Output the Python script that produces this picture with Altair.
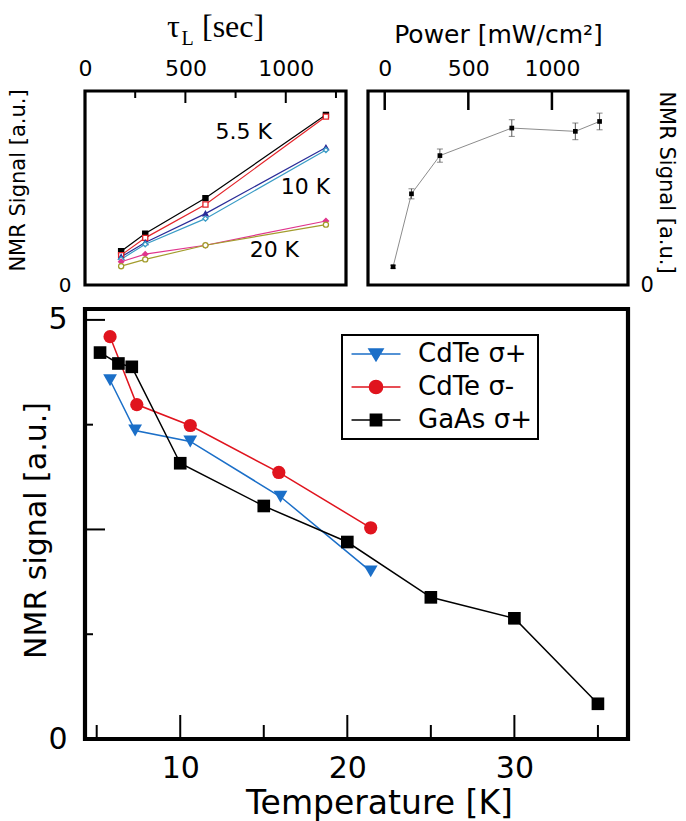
import altair as alt
import pandas as pd

SANS = "DejaVu Sans"
SERIF = "Liberation Serif"

# ---------------- top-left panel: NMR signal vs tau_L ----------------
tau_s = [180, 300, 600, 1200]
tl_series = ["5.5 K s+", "5.5 K s-", "10 K s+", "10 K s-", "20 K s+", "20 K s-"]
sig_55_p = [0.174, 0.265, 0.448, 0.877]
sig_55_m = [0.154, 0.243, 0.415, 0.868]
sig_10_p = [0.145, 0.219, 0.368, 0.709]
sig_10_m = [0.133, 0.210, 0.342, 0.696]
sig_20_p = [0.120, 0.159, 0.205, 0.330]
sig_20_m = [0.097, 0.132, 0.205, 0.311]
tl_colors = ["#000000", "#e4252b", "#2a2c98", "#3a9cc6", "#e0358d", "#a39c2c"]
tl_fills = ["#000000", "#ffffff", "#2a2c98", "#ffffff", "#e0358d", "#ffffff"]
tl_shapes = ["square", "square", "triangle-up", "diamond", "diamond", "circle"]
tl_label_text = ["5.5 K", "10 K", "20 K"]
tl_label_tau = [650, 975, 820]
tl_label_sig = [0.79, 0.505, 0.18]
tl_ticks_major = [500, 1000]
tl_ticks_minor = [250, 750, 1250]

# ---------------- top-right panel: NMR signal vs power ----------------
power = [50, 160, 330, 760, 1140, 1285]
tr_sig = [0.094, 0.470, 0.667, 0.809, 0.792, 0.843]
tr_err = [0.008, 0.026, 0.034, 0.043, 0.043, 0.043]
tr_ticks = [0, 500, 1000]

# ---------------- bottom panel: NMR signal vs temperature ----------------
c_series = ["CdTe σ+", "CdTe σ-", "GaAs σ+"]
c_colors = ["#1b6fc8", "#e0141e", "#000000"]
c_shapes = ["triangle-down", "circle", "square"]
c_sizes = [190, 160, 115]
T_cdte_p = [5.8, 7.3, 10.6, 16.0, 21.4]
v_cdte_p = [4.28, 3.68, 3.55, 2.89, 2.00]
T_cdte_m = [5.8, 7.4, 10.6, 15.9, 21.4]
v_cdte_m = [4.80, 3.99, 3.74, 3.18, 2.52]
T_gaas = [5.2, 6.3, 7.1, 10.0, 15.0, 20.0, 25.0, 30.0, 35.0]
v_gaas = [4.61, 4.48, 4.44, 3.29, 2.78, 2.35, 1.69, 1.44, 0.42]
c_xticks_major = [10, 20, 30]
c_xticks_minor = [5, 15, 25, 35]
c_yticks_major = [0, 2.5, 5]
c_yticks_minor = [1.25, 3.75]

# legend symbols: line segment + marker (unit = 12 px)
leg_paths = [
    "M-2.04,0H2.04M-0.59,-0.41L0.59,-0.41L0,0.57Z",
    "M-0.55,0A0.55,0.55,0,1,0,0.55,0A0.55,0.55,0,1,0,-0.55,0ZM-2.04,0H2.04",
    "M-2.04,0H2.04M-0.47,-0.47H0.47V0.47H-0.47Z",
]

# ---------------- data frames ----------------
rows = []
for s, vals in zip(tl_series, [sig_55_p, sig_55_m, sig_10_p, sig_10_m, sig_20_p, sig_20_m]):
    for t, v in zip(tau_s, vals):
        rows.append({"tau": t, "sig": v, "series": s})
df_tl = pd.DataFrame(rows)
df_tl_lab = pd.DataFrame({"tau": tl_label_tau, "sig": tl_label_sig, "label": tl_label_text})
df_tr = pd.DataFrame({
    "power": power, "sig": tr_sig,
    "lo": [s - e for s, e in zip(tr_sig, tr_err)],
    "hi": [s + e for s, e in zip(tr_sig, tr_err)],
})
rows = []
for s, Ts, vs in zip(c_series, [T_cdte_p, T_cdte_m, T_gaas], [v_cdte_p, v_cdte_m, v_gaas]):
    for t, v in zip(Ts, vs):
        rows.append({"T": t, "v": v, "series": s})
df_c = pd.DataFrame(rows)
one = pd.DataFrame({"k": [0]})


def spacer():
    # invisible element fixing the left extent of a panel (for row alignment)
    return alt.Chart(one).mark_rule(strokeOpacity=0, strokeWidth=1).encode(
        x=alt.value(-80), y=alt.value(20), y2=alt.value(40))


# ================= panel A =================
WA, HA = 261, 194
xA = alt.Scale(domain=[0, 1300], nice=False, zero=False)
yA = alt.Scale(domain=[0, 1], nice=False, zero=False)
axA_x = alt.Axis(orient="top", values=[0, 500, 1000], format="d", title=None, ticks=False,
                 domain=False, grid=False, labelFontSize=22, labelPadding=11)
axA_y = alt.Axis(orient="left", values=[0], title="NMR Signal [a.u.]", ticks=False, domain=False,
                 grid=False, labelFontSize=20, labelPadding=14, titleFontSize=21, titleAngle=270,
                 titleBaseline="bottom", titleX=-57, titleY=89)

a_lines = alt.Chart(df_tl).mark_line(strokeWidth=1.2).encode(
    x=alt.X("tau:Q", scale=xA, axis=axA_x),
    y=alt.Y("sig:Q", scale=yA, axis=axA_y),
    color=alt.Color("series:N", scale=alt.Scale(domain=tl_series, range=tl_colors), legend=None),
)
a_pts = alt.Chart(df_tl).mark_point(size=26, strokeWidth=1.3, opacity=1).encode(
    x=alt.X("tau:Q", scale=xA, axis=axA_x),
    y=alt.Y("sig:Q", scale=yA, axis=axA_y),
    stroke=alt.Stroke("series:N", scale=alt.Scale(domain=tl_series, range=tl_colors), legend=None),
    fill=alt.Fill("series:N", scale=alt.Scale(domain=tl_series, range=tl_fills), legend=None),
    shape=alt.Shape("series:N", scale=alt.Scale(domain=tl_series, range=tl_shapes), legend=None),
)
a_txt = alt.Chart(df_tl_lab).mark_text(align="left", baseline="middle", font=SANS, fontSize=22,
                                       color="black").encode(
    x=alt.X("tau:Q", scale=xA, axis=axA_x),
    y=alt.Y("sig:Q", scale=yA, axis=axA_y),
    text="label:N",
)
a_tmaj = alt.Chart(pd.DataFrame({"tau": tl_ticks_major})).mark_rule(color="black", strokeWidth=2).encode(
    x=alt.X("tau:Q", scale=xA, axis=axA_x), y=alt.value(0), y2=alt.value(12))
a_tmin = alt.Chart(pd.DataFrame({"tau": tl_ticks_minor})).mark_rule(color="black", strokeWidth=2).encode(
    x=alt.X("tau:Q", scale=xA, axis=axA_x), y=alt.value(0), y2=alt.value(7))
a_tau = alt.Chart(one).mark_text(align="left", baseline="alphabetic", font=SERIF, fontSize=32,
                                 color="black").encode(x=alt.value(82), y=alt.value(-54), text=alt.value("τ"))
a_sub = alt.Chart(one).mark_text(align="left", baseline="alphabetic", font=SERIF, fontSize=20,
                                 color="black").encode(x=alt.value(96.5), y=alt.value(-46), text=alt.value("L"))
a_sec = alt.Chart(one).mark_text(align="left", baseline="alphabetic", font=SERIF, fontSize=32,
                                 color="black").encode(x=alt.value(117), y=alt.value(-54), text=alt.value("[sec]"))

A = alt.layer(a_lines, a_pts, a_txt, a_tmaj, a_tmin, a_tau, a_sub, a_sec, spacer()).properties(
    width=WA, height=HA, view=alt.ViewBackground(stroke="black", strokeWidth=3.2))

# ================= panel B =================
WB, HB = 260, 194
xB = alt.Scale(domain=[-100, 1455], nice=False, zero=False)
yB = alt.Scale(domain=[0, 1], nice=False, zero=False)
axB_x = alt.Axis(orient="top", values=[0, 500, 1000], format="d", title="Power [mW/cm²]", ticks=False,
                 domain=False, grid=False, labelFontSize=22, labelPadding=11, titleFontSize=25,
                 titleBaseline="alphabetic", titleY=-49)
axB_y = alt.Axis(orient="right", values=[0], title="NMR Signal [a.u.]", ticks=False, domain=False,
                 grid=False, labelFontSize=21, labelPadding=12, titleFontSize=21, titleAngle=90,
                 titleBaseline="bottom", titleX=27, titleY=91)

b_line = alt.Chart(df_tr).mark_line(color="#8c8c8c", strokeWidth=1).encode(
    x=alt.X("power:Q", scale=xB, axis=axB_x),
    y=alt.Y("sig:Q", scale=yB, axis=axB_y),
)
b_err = alt.Chart(df_tr).mark_rule(color="#555555", strokeWidth=1).encode(
    x=alt.X("power:Q", scale=xB, axis=axB_x),
    y=alt.Y("lo:Q", scale=yB, axis=axB_y),
    y2="hi:Q",
)
b_cap_lo = alt.Chart(df_tr).mark_tick(orient="horizontal", size=6, thickness=1, color="#555555").encode(
    x=alt.X("power:Q", scale=xB, axis=axB_x), y=alt.Y("lo:Q", scale=yB, axis=axB_y))
b_cap_hi = alt.Chart(df_tr).mark_tick(orient="horizontal", size=6, thickness=1, color="#555555").encode(
    x=alt.X("power:Q", scale=xB, axis=axB_x), y=alt.Y("hi:Q", scale=yB, axis=axB_y))
b_pts = alt.Chart(df_tr).mark_square(size=22, color="black", opacity=1).encode(
    x=alt.X("power:Q", scale=xB, axis=axB_x), y=alt.Y("sig:Q", scale=yB, axis=axB_y))
b_ticks = alt.Chart(pd.DataFrame({"power": tr_ticks})).mark_rule(color="black", strokeWidth=2.5).encode(
    x=alt.X("power:Q", scale=xB, axis=axB_x), y=alt.value(0), y2=alt.value(19))

B = alt.layer(b_line, b_err, b_cap_lo, b_cap_hi, b_pts, b_ticks).properties(
    width=WB, height=HB, view=alt.ViewBackground(stroke="black", strokeWidth=3.2))

# ================= panel C =================
WC, HC = 543, 430
xC = alt.Scale(domain=[4.3, 36.8], nice=False, zero=False)
yC = alt.Scale(domain=[0, 5.13], nice=False, zero=False)
axC_x = alt.Axis(orient="bottom", values=c_xticks_major, title="Temperature [K]", ticks=False,
                 domain=False, grid=False, labelFontSize=30, labelPadding=14, titleFontSize=33,
                 titleBaseline="alphabetic", titleX=294, titleY=74)
axC_y = alt.Axis(orient="left", values=[0, 5], title="NMR signal [a.u.]", ticks=False, domain=False,
                 grid=False, labelFontSize=30, labelPadding=18, titleFontSize=30, titleAngle=270,
                 titleBaseline="bottom", titleX=-34, titleY=221)

c_lines = alt.Chart(df_c).mark_line(strokeWidth=1.5).encode(
    x=alt.X("T:Q", scale=xC, axis=axC_x),
    y=alt.Y("v:Q", scale=yC, axis=axC_y),
    color=alt.Color("series:N", scale=alt.Scale(domain=c_series, range=c_colors), legend=None),
)
c_pts = alt.Chart(df_c).mark_point(filled=True, opacity=1).encode(
    x=alt.X("T:Q", scale=xC, axis=axC_x),
    y=alt.Y("v:Q", scale=yC, axis=axC_y),
    color=alt.Color("series:N", scale=alt.Scale(domain=c_series, range=c_colors), legend=None),
    shape=alt.Shape("series:N", scale=alt.Scale(domain=c_series, range=c_shapes), legend=None),
    size=alt.Size("series:N", scale=alt.Scale(domain=c_series, range=c_sizes), legend=None),
)
LEG = alt.Legend(title=None, orient="none", legendX=257, legendY=26, symbolSize=576,
                 symbolStrokeWidth=1.5, labelFontSize=26, labelFont=SANS, labelColor="black",
                 labelOffset=29, padding=6, rowPadding=7, strokeColor="black", symbolOffset=15,
                 labelLimit=300)
c_leg = alt.Chart(df_c).mark_point(filled=True, opacity=1, strokeWidth=1.5).encode(
    color=alt.Color("series:N", scale=alt.Scale(domain=c_series, range=c_colors), legend=LEG),
    stroke=alt.Stroke("series:N", scale=alt.Scale(domain=c_series, range=c_colors), legend=LEG),
    shape=alt.Shape("series:N", scale=alt.Scale(domain=c_series, range=leg_paths), legend=LEG),
).transform_filter("false")

c_xmaj = alt.Chart(pd.DataFrame({"T": c_xticks_major})).mark_rule(color="black", strokeWidth=2).encode(
    x=alt.X("T:Q", scale=xC, axis=axC_x), y=alt.value(HC), y2=alt.value(HC - 24))
c_xmin = alt.Chart(pd.DataFrame({"T": c_xticks_minor})).mark_rule(color="black", strokeWidth=2).encode(
    x=alt.X("T:Q", scale=xC, axis=axC_x), y=alt.value(HC), y2=alt.value(HC - 14))
c_ymaj = alt.Chart(pd.DataFrame({"v": c_yticks_major})).mark_rule(color="black", strokeWidth=2).encode(
    y=alt.Y("v:Q", scale=yC, axis=axC_y), x=alt.value(0), x2=alt.value(20))
c_ymin = alt.Chart(pd.DataFrame({"v": c_yticks_minor})).mark_rule(color="black", strokeWidth=2).encode(
    y=alt.Y("v:Q", scale=yC, axis=axC_y), x=alt.value(0), x2=alt.value(8))

C = alt.layer(c_lines, c_pts, c_leg, c_xmaj, c_xmin, c_ymaj, c_ymin, spacer()).resolve_scale(
    color="independent", shape="independent", stroke="independent"
).properties(width=WC, height=HC, view=alt.ViewBackground(stroke="black", strokeWidth=4.2))

top = alt.hconcat(A, B, spacing=22, bounds="flush")
chart = alt.vconcat(top, C, spacing=5).properties(
    padding={"left": 2, "top": 9, "right": 5, "bottom": 5}, background="white"
).configure_axis(
    labelFont=SANS, titleFont=SANS, labelColor="black", titleColor="black",
    titleFontWeight="normal", labelFlush=False,
).configure_view(stroke="black", strokeWidth=3.5
).configure_legend(strokeWidth=2)

chart.save("out.html", embed_options={"renderer": "svg", "actions": False})
